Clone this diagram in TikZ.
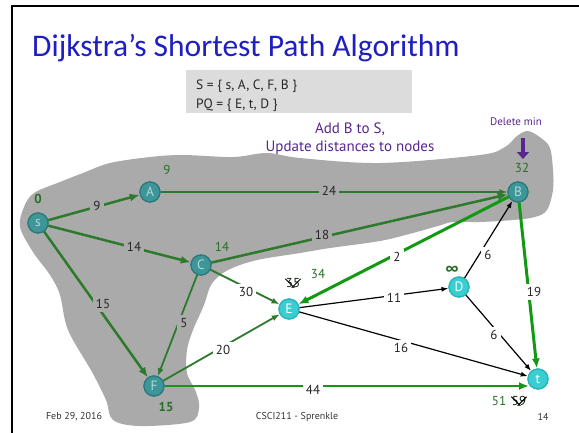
\documentclass[tikz,border=0pt]{standalone}
\usepackage{fontspec}
\setmainfont{PT Sans}
\newfontfamily\titlefont{Carlito}
\usetikzlibrary{arrows.meta}
\definecolor{titleblue}{RGB}{30,30,195}
\definecolor{blobgrey}{RGB}{170,170,170}
\definecolor{boxgrey}{RGB}{220,220,220}
\definecolor{dkgreen}{RGB}{45,122,45}
\definecolor{brgreen}{RGB}{18,152,18}
\definecolor{distgreen}{RGB}{40,110,40}
\definecolor{purp}{RGB}{88,38,140}
\definecolor{tealdk}{RGB}{62,150,152}
\definecolor{tealdkb}{RGB}{42,122,124}
\definecolor{teallt}{RGB}{175,218,218}
\definecolor{cyanbr}{RGB}{58,205,210}
\definecolor{cyanbrb}{RGB}{40,180,185}
\tikzset{
  vtx/.style={circle, minimum size=20pt, inner sep=0pt, line width=1.2pt, font=\fontsize{13.5}{13.5}\selectfont},
  vin/.style={vtx, fill=tealdk, draw=tealdkb, text=teallt},
  vout/.style={vtx, fill=cyanbr, draw=cyanbrb, text=white},
  ethick/.style={draw=dkgreen, line width=2.5pt, -{Latex[length=10pt,width=8pt]}},
  ethin/.style={draw=dkgreen, line width=1.8pt, -{Latex[length=8pt,width=6pt]}},
  ebright/.style={draw=brgreen, line width=3pt, -{Latex[length=10pt,width=8pt]}},
  eblack/.style={draw=black, line width=1.2pt, -{Latex[length=7pt,width=5pt]}},
  lbl/.style={font=\fontsize{13}{13}\selectfont, text=black!85, inner sep=3pt, fill=white},
  lblg/.style={lbl, fill=blobgrey},
  dist/.style={text=distgreen, font=\fontsize{13}{13}\selectfont},
  foot/.style={text=black!80, font=\fontsize{10}{10}\selectfont},
  note/.style={text=purp, font=\fontsize{15}{18}\selectfont, align=center}
}
\begin{document}
\begin{tikzpicture}[x=1pt, y=-1pt]
\useasboundingbox (0,0) rectangle (579,432);
% frame
\draw[line width=2pt] (12,433) -- (12,6) -- (580,6);
% title
\node[anchor=base west, inner sep=0pt, text=titleblue, font=\titlefont\fontsize{31.5}{31.5}\selectfont] (title) at (32,56) {Dijkstra’s Shortest Path Algorithm};
% sets box
\node[fill=boxgrey, minimum width=226pt, minimum height=43pt, anchor=north west, inner sep=0pt] (setbox) at (186,70) {};
\node[anchor=base west, inner sep=0pt, font=\fontsize{13.5}{13.5}\selectfont, text=black!85] (sline) at (196,89) {S = \{ s, A, C, F, B \}};
\node[anchor=base west, inner sep=0pt, font=\fontsize{13.5}{13.5}\selectfont, text=black!85] (pqline) at (196,108) {PQ = \{ E, t, D \}};
% blob
\fill[blobgrey] plot[smooth cycle, tension=0.55] coordinates {
 (20,227) (24,207) (34,193) (60,182) (83,173) (110,163) (150,157) (183,155)
 (233,157) (267,153) (300,158) (380,163) (480,155) (505,147) (517,136) (528,131)
 (541,138) (550,148) (553,170) (553,190) (547,210) (535,217) (513,220) (480,222)
 (453,222) (438,226) (413,233) (380,241) (330,248) (300,253) (262,259) (240,265)
 (223,273) (211,285) (204,305) (193,330) (187,350) (187,373) (196,392) (199,408)
 (190,422) (140,426) (113,420) (106,400) (92,372) (68,330) (60,295) (50,275)
 (33,252)};
% notes
\node[note] (addnote) at (350,139) {Add B to S,\\Update distances to nodes};
\node[text=purp, font=\fontsize{11}{11}\selectfont] (delmin) at (516,122) {Delete min};
\coordinate (dmtop) at (523,138);
\coordinate (dmbot) at (523,159);
\draw[purp, line width=4.5pt, -{Triangle[length=7pt,width=12pt]}] (dmtop) -- (dmbot);
% vertices
\node[vin] (s) at (38,223) {s};
\node[vin] (A) at (150,192) {A};
\node[vin] (C) at (201,265) {C};
\node[vin] (B) at (518,192) {B};
\node[vin] (F) at (154,386) {F};
\node[vout] (E) at (289,309) {E};
\node[vout] (D) at (459,287) {D};
\node[vout] (t) at (538,379) {t};
\coordinate (tin) at (529,386);
% edges
\draw[ethick] (s) -- (A);
\draw[ethin] (A) -- (B);
\draw[ethick] (s) -- (C);
\draw[ethick] (C) -- (B);
\draw[ethick] (s) -- (F);
\draw[ethin] (C) -- (F);
\draw[ethin] (C) -- (E);
\draw[ethin] (F) -- (E);
\draw[ebright, line width=2.6pt] (F.east) -- (tin);
\draw[ebright] (B) -- (E);
\draw[ebright] (B) -- (t);
\draw[eblack] (E) -- (D);
\draw[eblack] (E) -- (t);
\draw[eblack] (D) -- (B);
\draw[eblack] (D) -- (t);
% edge labels
\node[lblg] (w9) at (97,206) {9};
\node[lblg] (w24) at (329,191) {24};
\node[lblg] (w14) at (134,247) {14};
\node[lblg] (w18) at (322,235) {18};
\node[lblg] (w15) at (103,304) {15};
\node[lblg] (w5) at (184,323) {5};
\node[lbl] (w30) at (246,292) {30};
\node[lbl] (w20) at (223,350) {20};
\node[lbl] (w44) at (313,390) {44};
\node[lbl] (w2) at (397,257) {2};
\node[lbl] (w19) at (534,292) {19};
\node[lbl] (w11) at (394,298) {11};
\node[lbl] (w16) at (401,348) {16};
\node[lbl] (w6a) at (488,255) {6};
\node[lbl] (w6b) at (494,335) {6};
% redraw vertices on top
\node[vin] at (s) {s};
\node[vin] at (A) {A};
\node[vin] at (C) {C};
\node[vin] at (B) {B};
\node[vin] at (F) {F};
\node[vout] at (E) {E};
\node[vout] at (D) {D};
\node[vout] at (t) {t};
% distances
\node[dist, font=\bfseries\fontsize{13}{13}\selectfont] (d0) at (38,199) {0};
\node[dist] (dA) at (167,170) {9};
\node[dist] (dC) at (222,247) {14};
\node[dist] (dB) at (522,168) {32};
\node[dist, font=\bfseries\fontsize{13}{13}\selectfont] (dF) at (166,407) {15};
\node[dist, font=\bfseries\fontsize{15}{15}\selectfont] (dD) at (452,270) {∞};
\node[dist] (dE) at (318,274) {34};
\node[dist, text=black!70!distgreen] (dEold) at (293,283) {35};
\draw[line width=1pt] (dEold.north west) ++(3,4) -- ++(9,9);
\draw[line width=1pt] (dEold.north east) ++(-3,4) -- ++(-9,9);
\node[dist] (dt) at (499,401) {51};
\node[dist, text=black!70!distgreen] (dtold) at (519,401) {59};
\draw[line width=1pt] (dtold.north west) ++(3,4) -- ++(9,9);
\draw[line width=1pt] (dtold.north east) ++(-3,4) -- ++(-9,9);
% footer
\node[foot] (fdate) at (74,417) {Feb 29, 2016};
\node[foot] (fcourse) at (297,417) {CSCI211 - Sprenkle};
\node[foot] (fpage) at (543,417) {14};
\end{tikzpicture}
\end{document}
